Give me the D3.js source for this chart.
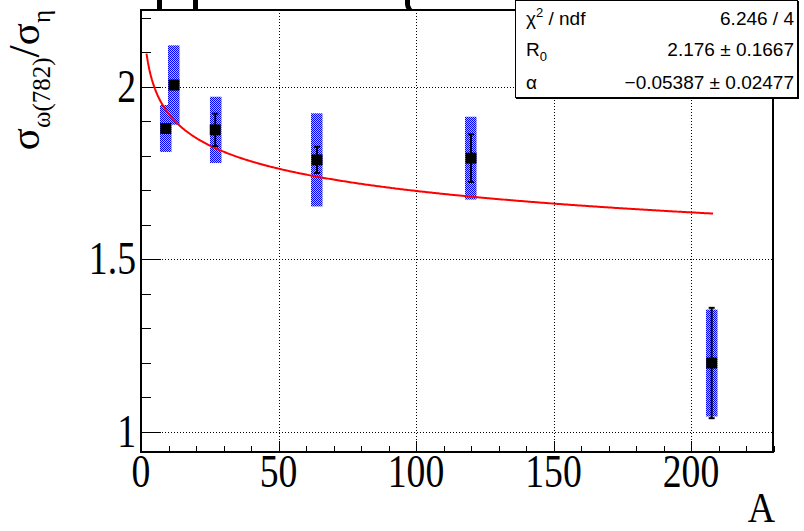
<!DOCTYPE html>
<html><head><meta charset="utf-8">
<script src="https://cdn.jsdelivr.net/npm/d3@7"></script>
<style>body{margin:0;background:#fff}svg{display:block}</style>
</head><body>
<svg id="c" width="804" height="531"></svg>
<script>
// ---- data ----
const nucleusA   = [9, 12, 27, 64, 120, 207.5];
const ratioVals  = [1.879, 2.005, 1.875, 1.788, 1.793, 1.199];
const statErrors = [0.012, 0.012, 0.047, 0.038, 0.069, 0.16];
const systErrors = [0.068, 0.115, 0.096, 0.135, 0.12, 0.155];
const xTickLabels = ["0", "50", "100", "150", "200"];
const xTickValues = [0, 50, 100, 150, 200];
const yTickLabels = ["1", "1.5", "2"];
const yTickValues = [1, 1.5, 2];
const fitR0 = 2.176, fitAlpha = -0.05387, fitRange = [2, 208];
const statRows = [
  {name: "chi", value: "6.246 / 4"},
  {name: "R0", value: "2.176 \u00b1 0.1667"},
  {name: "alpha", value: "\u22120.05387 \u00b1 0.02477"}
];

// ---- layout ----
const L = 141, R = 773, T = 10, B = 452;
const svg = d3.select("#c");
const x = d3.scaleLinear().domain([0, 229.8]).range([L, R]);
const y = d3.scaleLinear().domain([0.941, 2.2225]).range([B, T]);

const defs = svg.append("defs");
const pat = defs.append("pattern").attr("id", "chk").attr("width", 2).attr("height", 2)
  .attr("patternUnits", "userSpaceOnUse");
pat.append("rect").attr("width", 2).attr("height", 2).attr("fill", "#b4b4ff");
pat.append("rect").attr("x", 0).attr("y", 0).attr("width", 1).attr("height", 1).attr("fill", "#0000ff");
pat.append("rect").attr("x", 1).attr("y", 1).attr("width", 1).attr("height", 1).attr("fill", "#0000ff");

// fragments of clipped title at top
svg.append("rect").attr("x", 157).attr("y", 0).attr("width", 5).attr("height", 10).attr("fill", "#000");
svg.append("rect").attr("x", 193).attr("y", 0).attr("width", 5).attr("height", 10).attr("fill", "#000");
svg.append("path").attr("d", "M405,0 L410,0 L410,5 Q411,8 413,10 L407,10 Q405,7 405,4 Z").attr("fill", "#000");

// grid
const grid = svg.append("g").attr("stroke", "#000").attr("stroke-width", 1).attr("stroke-dasharray", "1,2");
xTickValues.filter(v => v > 0).forEach(v => {
  grid.append("line").attr("x1", Math.round(x(v)) + 0.5).attr("x2", Math.round(x(v)) + 0.5).attr("y1", T).attr("y2", B);
});
yTickValues.forEach(v => {
  grid.append("line").attr("x1", L).attr("x2", R).attr("y1", Math.round(y(v)) + 0.5).attr("y2", Math.round(y(v)) + 0.5);
});

// ticks
const tk = svg.append("g").attr("stroke", "#000").attr("stroke-width", 1);
d3.range(0, 231, 10).forEach(v => {
  const major = v % 50 === 0;
  const px = Math.round(x(v)) + 0.5;
  tk.append("line").attr("x1", px).attr("x2", px).attr("y1", B).attr("y2", B - (major ? 11 : 6));
});
d3.range(10, 23).map(v => v / 10).forEach(v => {
  const major = Math.abs(v * 2 - Math.round(v * 2)) < 1e-6;
  const py = Math.round(y(v)) + 0.5;
  tk.append("line").attr("x1", L).attr("x2", L + (major ? 20 : 10)).attr("y1", py).attr("y2", py);
});

// syst boxes
svg.append("g").selectAll("rect").data(nucleusA).join("rect")
  .attr("x", (d) => Math.round(x(d) - 5.75))
  .attr("width", 11.5)
  .attr("y", (d, i) => y(ratioVals[i] + systErrors[i]))
  .attr("height", (d, i) => y(ratioVals[i] - systErrors[i]) - y(ratioVals[i] + systErrors[i]))
  .attr("fill", "url(#chk)");

// fit curve
const fitPts = d3.range(fitRange[0], fitRange[1] + 0.001, 0.5).map(a => [a, fitR0 * Math.pow(a, fitAlpha)]);
svg.append("path").datum(fitPts)
  .attr("d", d3.line().x(d => x(d[0])).y(d => y(d[1])))
  .attr("fill", "none").attr("stroke", "#ff0000").attr("stroke-width", 2);

// stat error bars
const eb = svg.append("g").attr("stroke", "#000").attr("stroke-width", 2);
nucleusA.forEach((a, i) => {
  const px = x(a), y1 = y(ratioVals[i] + statErrors[i]), y2 = y(ratioVals[i] - statErrors[i]);
  eb.append("line").attr("x1", px).attr("x2", px).attr("y1", y1).attr("y2", y2);
  eb.append("line").attr("x1", px - 3).attr("x2", px + 3).attr("y1", y1).attr("y2", y1);
  eb.append("line").attr("x1", px - 3).attr("x2", px + 3).attr("y1", y2).attr("y2", y2);
});
// markers
svg.append("g").selectAll("rect").data(nucleusA).join("rect")
  .attr("x", d => x(d) - 5.5).attr("width", 11)
  .attr("y", (d, i) => y(ratioVals[i]) - 5.5).attr("height", 11)
  .attr("fill", "#000");

// frame
svg.append("rect").attr("x", L).attr("y", T).attr("width", R - L).attr("height", B - T)
  .attr("fill", "none").attr("stroke", "#000").attr("stroke-width", 2);

// tick labels
const tf = "'Liberation Serif', 'Times New Roman', serif";
xTickValues.forEach((v, i) => {
  svg.append("text").attr("transform", `translate(${x(v)},487) scale(0.82,1)`)
    .attr("text-anchor", "middle").attr("font-family", tf).attr("font-size", 46)
    .text(xTickLabels[i]);
});
yTickValues.forEach((v, i) => {
  svg.append("text").attr("transform", `translate(136,${y(v) + 15}) scale(0.82,1)`)
    .attr("text-anchor", "end").attr("font-family", tf).attr("font-size", 46)
    .text(yTickLabels[i]);
});
// axis titles
svg.append("text").attr("transform", "translate(775,522) scale(0.9,1)")
  .attr("text-anchor", "end").attr("font-family", tf).attr("font-size", 42).text("A");

const yt = svg.append("text").attr("transform", "translate(39,10) rotate(-90)")
  .attr("text-anchor", "end").attr("font-family", tf).attr("font-size", 41);
yt.append("tspan").text("\u03c3");
yt.append("tspan").attr("font-size", 25).attr("dy", 11).text("\u03c9(782)");
yt.append("tspan").attr("font-size", 44).attr("dy", -11).text("/");
yt.append("tspan").text("\u03c3");
yt.append("tspan").attr("font-size", 25).attr("dy", 11).text("\u03b7");

// stats box
const sb = svg.append("g");
sb.append("rect").attr("x", 516).attr("y", 1).attr("width", 283).attr("height", 98).attr("fill", "#000");
sb.append("rect").attr("x", 515.5).attr("y", 0.5).attr("width", 282).attr("height", 97)
  .attr("fill", "#fff").attr("stroke", "#000").attr("stroke-width", 1);
const sf = "'Liberation Sans', Arial, sans-serif";
const rowY = [24.5, 56, 89];
const lab0 = sb.append("text").attr("x", 526).attr("y", rowY[0]).attr("font-family", sf).attr("font-size", 19);
lab0.append("tspan").text("\u03c7");
lab0.append("tspan").attr("font-size", 13).attr("dy", -8).text("2");
lab0.append("tspan").attr("dy", 8).text(" / ndf");
const lab1 = sb.append("text").attr("x", 526).attr("y", rowY[1]).attr("font-family", sf).attr("font-size", 19);
lab1.append("tspan").text("R");
lab1.append("tspan").attr("font-size", 13).attr("dy", 5).text("0");
sb.append("text").attr("x", 526).attr("y", rowY[2]).attr("font-family", sf).attr("font-size", 19).text("\u03b1");
statRows.forEach((r, i) => {
  sb.append("text").attr("x", 794).attr("y", rowY[i]).attr("text-anchor", "end")
    .attr("font-family", sf).attr("font-size", 19).text(r.value);
});
</script>
</body></html>
